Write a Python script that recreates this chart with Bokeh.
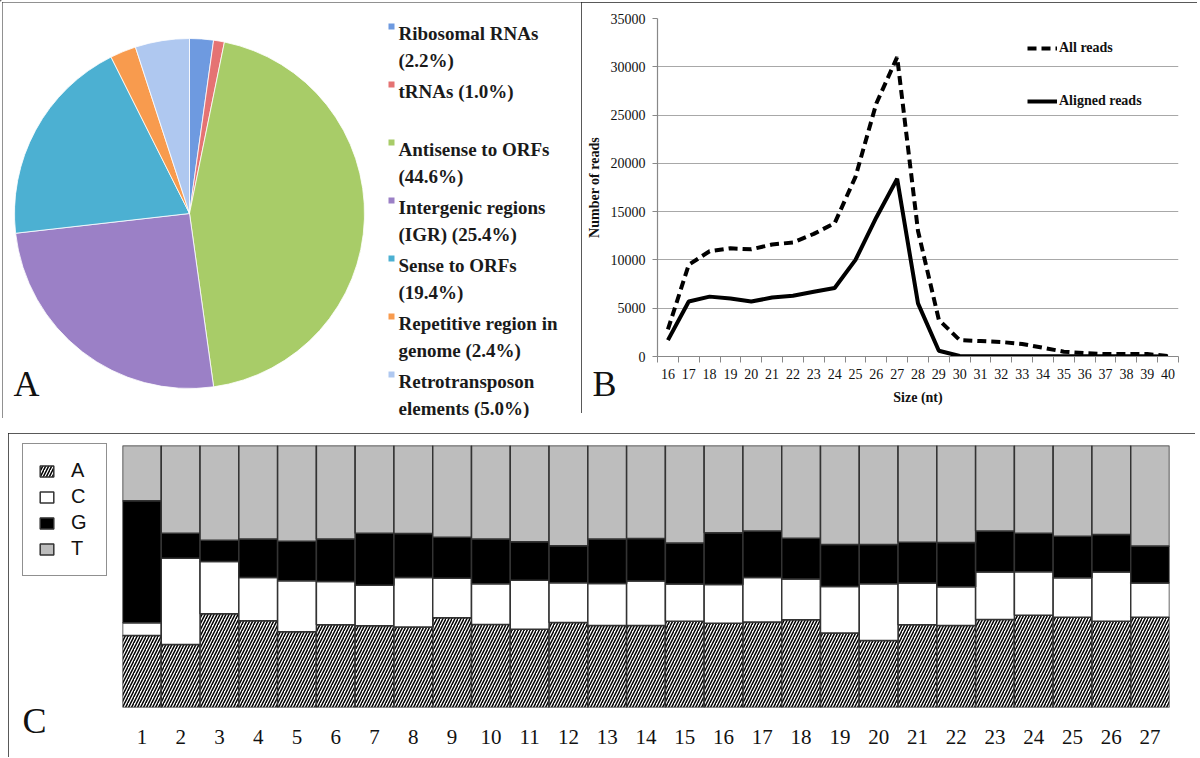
import numpy as np
from bokeh.plotting import figure
from bokeh.models import (ColumnDataSource, Range1d, FactorRange, FixedTicker,
                          Legend, LegendItem)
from bokeh.core.properties import value
from bokeh.embed import file_html
from bokeh.resources import INLINE

SERIF = "Liberation Serif"
SANS = "Liberation Sans"

# ---------------- Panel A data ----------------
pie_names = ["Ribosomal RNAs\n(2.2%)", "tRNAs (1.0%)", "Antisense to ORFs\n(44.6%)",
             "Intergenic regions\n(IGR) (25.4%)", "Sense to ORFs\n(19.4%)",
             "Repetitive region in\ngenome (2.4%)", "Retrotransposon\nelements (5.0%)"]
pie_pct = [2.2, 1.0, 44.6, 25.4, 19.4, 2.4, 5.0]
pie_colors = ["#6e9ae0", "#e57373", "#a8cc68", "#9b80c6", "#4cb0d2", "#f89b4e", "#afc8f0"]

# ---------------- Panel B data ----------------
sizes = [16, 17, 18, 19, 20, 21, 22, 23, 24, 25, 26, 27, 28, 29, 30, 31, 32, 33, 34, 35, 36, 37, 38, 39, 40]
all_reads = [2800, 9500, 10900, 11200, 11100, 11600, 11800, 12700, 13800, 18600, 26200, 31000,
             13000, 3800, 1700, 1600, 1500, 1300, 900, 500, 350, 250, 250, 250, 50]
aligned_reads = [1700, 5700, 6200, 6000, 5700, 6100, 6300, 6700, 7100, 10000, 14400, 18400,
                 5500, 600, 50, 30, 30, 30, 30, 30, 20, 20, 20, 20, 10]
y_ticks_b = [0, 5000, 10000, 15000, 20000, 25000, 30000, 35000]

# ---------------- Panel C data ----------------
positions = ["1", "2", "3", "4", "5", "6", "7", "8", "9", "10", "11", "12", "13", "14",
             "15", "16", "17", "18", "19", "20", "21", "22", "23", "24", "25", "26", "27"]
bases = ["A", "C", "G", "T"]
pct_A = [27.5, 24.0, 35.8, 33.1, 28.9, 31.6, 31.2, 30.7, 34.3, 31.7, 29.9, 32.4, 31.3, 31.3,
         32.9, 32.2, 32.6, 33.5, 28.4, 25.6, 31.6, 31.3, 33.6, 35.2, 34.4, 32.9, 34.4]
pct_C = [4.8, 33.0, 19.9, 16.5, 19.5, 16.5, 15.5, 18.9, 15.0, 15.5, 18.7, 15.2, 16.0, 17.0,
         14.2, 14.7, 17.0, 15.5, 17.8, 21.6, 15.9, 14.8, 18.1, 16.6, 15.1, 18.8, 13.1]
pct_G = [46.6, 9.5, 8.1, 14.7, 15.1, 16.2, 19.8, 16.8, 15.7, 17.1, 14.7, 14.1, 17.0, 16.2,
         15.7, 19.8, 17.8, 15.6, 16.0, 15.0, 15.6, 16.9, 15.7, 14.7, 15.9, 14.3, 14.1]
pct_T = [round(100 - a - c - g, 1) for a, c, g in zip(pct_A, pct_C, pct_G)]
base_colors = ["white", "white", "black", "#bdbdbd"]
base_hatch = ["/", " ", " ", " "]

panel_letters = ["A", "B", "C"]


def placed(left, top, border=True):
    st = {"position": "absolute", "left": f"{left}px", "top": f"{top}px"}
    if border:
        st.update({"outline": "2px solid #222", "outline-offset": "-2px"})
    return st


# ================= Panel A =================
WA, HA = 580, 416
pA = figure(width=WA, height=HA, x_range=Range1d(0, WA), y_range=Range1d(0, HA),
            output_backend="svg", toolbar_location=None, min_border=0,
            x_axis_location=None, y_axis_location=None)
pA.grid.visible = False
pA.outline_line_color = None
pA.styles = placed(2, 2)

frac = np.array(pie_pct) / np.sum(pie_pct)
cum = np.cumsum(frac)
start = np.pi / 2 - 2 * np.pi * (cum - frac)
end = np.pi / 2 - 2 * np.pi * cum
pie_src = ColumnDataSource(dict(start=start, end=end, color=pie_colors, name=pie_names))
cx, cy, rad = 187, 205, 175
pA.wedge(x=cx, y=cy, radius=rad, start_angle="start", end_angle="end", direction="clock",
         fill_color="color", line_color="white", line_width=0.8, source=pie_src)

idx = np.arange(len(pie_names))
leg_src = ColumnDataSource(dict(
    tx=[396] * len(pie_names), ty=HA - (20 + 58 * idx),
    mx=[389] * len(pie_names), my=HA - (24 + 58 * idx),
    name=pie_names, color=pie_colors))
pA.rect(x="mx", y="my", width=6, height=6, fill_color="color", line_color=None, source=leg_src)
pA.text(x="tx", y="ty", text="name", source=leg_src, text_font=value(SERIF),
        text_font_style="bold", text_font_size="19px", text_baseline="top",
        text_line_height=1.32, text_color="#1a1a1a")

# ================= Panel B =================
WB, HB = 616, 411
pB = figure(width=WB, height=HB, x_range=Range1d(15.5, 40.5), y_range=Range1d(0, 35000),
            output_backend="svg", toolbar_location=None,
            min_border_left=76, min_border_right=19, min_border_top=16, min_border_bottom=57)
pB.styles = placed(581, 2)
pB.outline_line_color = None
pB.xgrid.visible = False
pB.ygrid.grid_line_color = "#a8a8a8"
pB.ygrid.grid_line_width = 1.2

pB.line(sizes, all_reads, line_width=4, line_color="black", line_dash="9 5", legend_label="All reads")
pB.line(sizes, aligned_reads, line_width=4, line_color="black", legend_label="Aligned reads")

minor = [s - 0.5 for s in sizes] + [sizes[-1] + 0.5]
pB.xaxis.ticker = FixedTicker(ticks=sizes, minor_ticks=minor)
pB.yaxis.ticker = FixedTicker(ticks=y_ticks_b)
for ax in (pB.xaxis[0], pB.yaxis[0]):
    ax.axis_line_color = "#888"
    ax.axis_line_width = 1.2
    ax.major_label_text_font = SERIF
    ax.major_label_text_font_size = "14px"
    ax.major_label_text_color = "#111"
    ax.axis_label_text_font = SERIF
    ax.axis_label_text_font_style = "bold"
    ax.axis_label_text_font_size = "14px"
    ax.axis_label_text_color = "#111"
pB.xaxis.major_tick_line_color = None
pB.xaxis.major_tick_in = 0
pB.xaxis.major_tick_out = 6
pB.xaxis.minor_tick_in = 0
pB.xaxis.minor_tick_out = 6
pB.xaxis.minor_tick_line_color = "#888"
pB.xaxis.major_label_standoff = 6
pB.xaxis.axis_label = "Size (nt)"
pB.xaxis.axis_label_standoff = 8
pB.yaxis.major_tick_in = 0
pB.yaxis.major_tick_out = 5
pB.yaxis.major_tick_line_color = "#888"
pB.yaxis.minor_tick_line_color = None
pB.yaxis.major_label_standoff = 7
pB.yaxis.axis_label = "Number of reads"
pB.yaxis.axis_label_standoff = 6

lg = pB.legend[0]
lg.location = (370, 245)
lg.margin = 0
lg.padding = 5
lg.spacing = 33
lg.glyph_width = 30
lg.glyph_height = 20
lg.label_height = 20
lg.label_standoff = 2
lg.border_line_color = None
lg.background_fill_alpha = 0
lg.label_text_font = SERIF
lg.label_text_font_style = "bold"
lg.label_text_font_size = "14px"
lg.label_text_color = "#111"

# ================= Panel C =================
WC, HC = 1187, 324
srcC = ColumnDataSource(dict(pos=positions, A=pct_A, C=pct_C, G=pct_G, T=pct_T))
pC = figure(width=WC, height=HC, x_range=FactorRange(*positions), y_range=Range1d(0, 100),
            output_backend="svg", toolbar_location=None, y_axis_location=None,
            min_border_left=114, min_border_right=26, min_border_top=12, min_border_bottom=50)
pC.styles = placed(8, 433)
pC.outline_line_color = None
pC.grid.visible = False
rs = pC.vbar_stack(bases, x="pos", width=1.0, source=srcC, fill_color=base_colors,
                   hatch_pattern=base_hatch, hatch_color="black", hatch_scale=6, hatch_weight=1.5,
                   line_color="#333", line_width=1.5)
pC.xaxis.axis_line_color = None
pC.xaxis.major_tick_line_color = None
pC.xaxis.major_tick_out = 0
pC.xaxis.major_label_text_font = SERIF
pC.xaxis.major_label_text_font_size = "21px"
pC.xaxis.major_label_text_color = "#111"
pC.xaxis.major_label_standoff = 22

# ============ Transparent overlay: panel letters and the base legend ============
WO, HO = 1190, 750
ov = figure(width=WO, height=HO, x_range=Range1d(0, WO), y_range=Range1d(HO, 0),
            output_backend="svg", toolbar_location=None, min_border=0,
            x_axis_location=None, y_axis_location=None)
ov.grid.visible = False
ov.outline_line_color = None
ov.background_fill_color = None
ov.border_fill_color = None
ov.styles = placed(0, 0, border=False) | {"pointer-events": "none"}

# legend proxies: one bar each, placed outside the visible range
leg_renderers = []
for col, hat in zip(base_colors, base_hatch):
    leg_renderers.append(ov.vbar(x=[-500], top=[-500], bottom=[-600], width=1, fill_color=col,
                                 hatch_pattern=hat, hatch_color="black", hatch_scale=6,
                                 hatch_weight=1.5, line_color="#333", line_width=1.5))
legC = Legend(items=[LegendItem(label=b, renderers=[r]) for b, r in zip(bases, leg_renderers)],
              location=(22, HO - 576), margin=0, padding=15, spacing=3, glyph_width=17,
              glyph_height=14, label_height=20, label_standoff=16, border_line_color="#222",
              border_line_width=1.5, background_fill_color="white",
              label_text_font=SANS, label_text_font_size="20px", label_text_color="#111")
ov.add_layout(legC)

letter_src = ColumnDataSource(dict(x=[26, 604, 34], y=[383, 383, 720], t=panel_letters))
ov.text(x="x", y="y", text="t", source=letter_src, text_font=value(SERIF), text_font_size="36px",
        text_align="center", text_baseline="middle", text_color="#111")

open("out.html", "w").write(file_html([pA, pB, pC, ov], INLINE))
